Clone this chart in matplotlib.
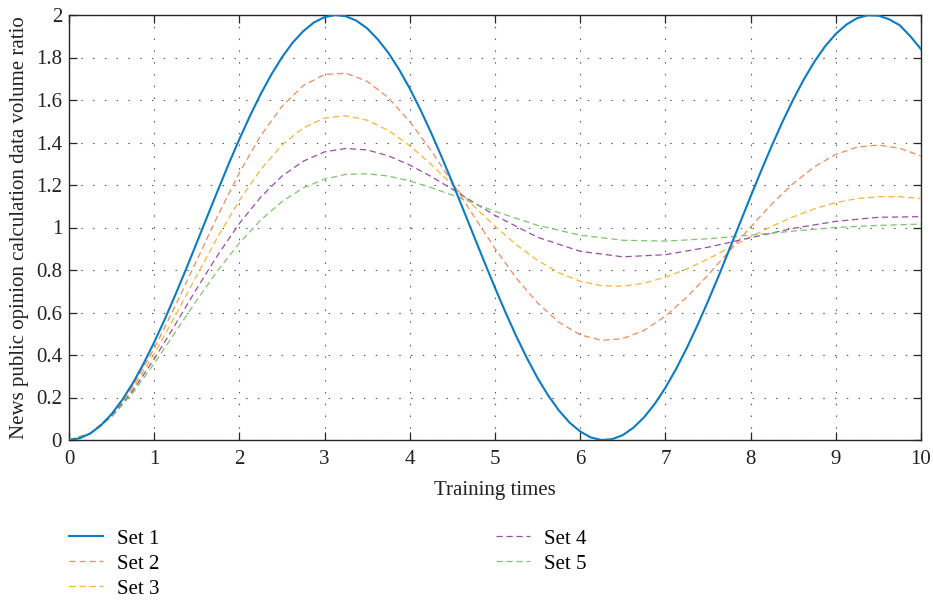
import matplotlib
matplotlib.use("Agg")
import matplotlib.pyplot as plt
from matplotlib.ticker import FuncFormatter

# ---------------- data ----------------
t_q = [0, 0.25, 0.5, 0.75, 1, 1.25, 1.5, 1.75, 2, 2.25, 2.5, 2.75, 3, 3.25, 3.5, 3.75,
       4, 4.25, 4.5, 4.75, 5, 5.25, 5.5, 5.75, 6, 6.25, 6.5, 6.75, 7, 7.25, 7.5, 7.75,
       8, 8.25, 8.5, 8.75, 9, 9.25, 9.5, 9.75, 10]

set1_t = [0, 0.125, 0.25, 0.375, 0.5, 0.625, 0.75, 0.875, 1, 1.125, 1.25, 1.375, 1.5,
          1.625, 1.75, 1.875, 2, 2.125, 2.25, 2.375, 2.5, 2.625, 2.75, 2.875, 3, 3.125,
          3.25, 3.375, 3.5, 3.625, 3.75, 3.875, 4, 4.125, 4.25, 4.375, 4.5, 4.625, 4.75,
          4.875, 5, 5.125, 5.25, 5.375, 5.5, 5.625, 5.75, 5.875, 6, 6.125, 6.25, 6.375,
          6.5, 6.625, 6.75, 6.875, 7, 7.125, 7.25, 7.375, 7.5, 7.625, 7.75, 7.875, 8,
          8.125, 8.25, 8.375, 8.5, 8.625, 8.75, 8.875, 9, 9.125, 9.25, 9.375, 9.5, 9.625,
          9.75, 9.875, 10]
set1_y = [0, 0.008, 0.031, 0.069, 0.122, 0.189, 0.268, 0.359, 0.460, 0.569, 0.685, 0.805,
          0.929, 1.054, 1.178, 1.300, 1.416, 1.526, 1.628, 1.720, 1.801, 1.870, 1.924, 1.965,
          1.990, 2.000, 1.994, 1.973, 1.937, 1.885, 1.821, 1.743, 1.654, 1.554, 1.446, 1.331,
          1.211, 1.087, 0.962, 0.838, 0.716, 0.599, 0.488, 0.385, 0.291, 0.209, 0.139, 0.082,
          0.040, 0.012, 0.000, 0.004, 0.023, 0.058, 0.107, 0.170, 0.246, 0.334, 0.432, 0.539,
          0.653, 0.772, 0.896, 1.021, 1.146, 1.268, 1.386, 1.498, 1.602, 1.697, 1.781, 1.853,
          1.911, 1.955, 1.985, 1.999, 1.997, 1.980, 1.952, 1.900, 1.839]

set2_y = [0, 0.031, 0.119, 0.256, 0.431, 0.633, 0.846, 1.059, 1.258, 1.432, 1.570, 1.668,
          1.720, 1.726, 1.688, 1.610, 1.498, 1.362, 1.211, 1.054, 0.901, 0.762, 0.645, 0.554,
          0.495, 0.469, 0.477, 0.516, 0.583, 0.672, 0.776, 0.889, 1.003, 1.111, 1.207, 1.286,
          1.344, 1.378, 1.388, 1.373, 1.337]

set3_y = [0, 0.030, 0.115, 0.244, 0.405, 0.586, 0.775, 0.959, 1.128, 1.273, 1.388, 1.469,
          1.515, 1.526, 1.505, 1.456, 1.385, 1.297, 1.201, 1.101, 1.006, 0.919, 0.845, 0.787,
          0.747, 0.726, 0.724, 0.738, 0.766, 0.805, 0.852, 0.904, 0.956, 1.006, 1.050, 1.088,
          1.117, 1.136, 1.145, 1.145, 1.136]

set4_t = [0, 0.25, 0.5, 0.75, 1, 1.25, 1.5, 1.75, 2, 2.25, 2.5, 2.75, 3, 3.25, 3.5, 3.75,
          4, 4.25, 4.5, 4.75, 5, 5.5, 6, 6.5, 7, 7.5, 8, 8.5, 9, 9.5, 10]
set4_y = [0, 0.030, 0.111, 0.233, 0.381, 0.545, 0.713, 0.873, 1.019, 1.143, 1.242, 1.312,
          1.356, 1.372, 1.365, 1.337, 1.294, 1.240, 1.180, 1.118, 1.057, 0.954, 0.888, 0.862,
          0.872, 0.907, 0.952, 0.996, 1.029, 1.048, 1.051]

set5_t = [0, 0.25, 0.5, 0.75, 1, 1.25, 1.5, 1.75, 2, 2.25, 2.5, 2.75, 3, 3.25, 3.5, 3.75,
          4, 4.25, 4.5, 5, 5.5, 6, 6.5, 7, 7.5, 8, 8.5, 9, 9.5, 10]
set5_y = [0, 0.029, 0.108, 0.222, 0.360, 0.509, 0.658, 0.800, 0.927, 1.035, 1.122, 1.186,
          1.228, 1.250, 1.253, 1.242, 1.219, 1.188, 1.152, 1.076, 1.010, 0.964, 0.940, 0.936,
          0.947, 0.964, 0.983, 1.000, 1.010, 1.016]

series_labels = ["Set 1", "Set 2", "Set 3", "Set 4", "Set 5"]
x_ticks = [0, 1, 2, 3, 4, 5, 6, 7, 8, 9, 10]
y_ticks = [0, 0.2, 0.4, 0.6, 0.8, 1.0, 1.2, 1.4, 1.6, 1.8, 2.0]
x_label = "Training times"
y_label = "News public opinion calculation data volume ratio"

# ---------------- style ----------------
plt.rcParams["font.family"] = ["Liberation Serif", "DejaVu Serif"]
FS = 15

fig = plt.figure(figsize=(9.33, 6.0), dpi=100)
W, H = 933, 600
ax = fig.add_axes([69 / W, 1 - 440 / H, (921 - 69) / W, (440 - 15) / H])

c1, c2, c3, c4, c5 = "#0A7CC4", "#F08A5D", "#F9B437", "#9B4DA8", "#7DC66B"
dash = (5, 3)

ax.plot(set1_t, set1_y, color=c1, lw=1.5, label=series_labels[0], zorder=5)
ax.plot(t_q, set2_y, color=c2, lw=0.9, dashes=dash, label=series_labels[1], zorder=4)
ax.plot(t_q, set3_y, color=c3, lw=0.9, dashes=dash, label=series_labels[2], zorder=4)
ax.plot(set4_t, set4_y, color=c4, lw=0.9, dashes=dash, label=series_labels[3], zorder=4)
ax.plot(set5_t, set5_y, color=c5, lw=0.9, dashes=dash, label=series_labels[4], zorder=4)

ax.set_xlim(0, 10)
ax.set_ylim(0, 2)
ax.set_xticks(x_ticks)
ax.set_yticks(y_ticks)
ax.yaxis.set_major_formatter(FuncFormatter(lambda v, p: "%g" % round(v, 2)))

ax.grid(True, color="#555555", lw=0.8, linestyle=(0, (1.3, 9.3)))
ax.set_axisbelow(True)

for s in ax.spines.values():
    s.set_color("#262626")
    s.set_linewidth(1.0)

ax.tick_params(direction="in", length=5.8, width=0.9, top=True, right=True,
               labelsize=FS, colors="#262626", labelcolor="#222222")
ax.tick_params(axis="x", pad=7)
ax.tick_params(axis="y", pad=5)

ax.set_xlabel(x_label, fontsize=FS, labelpad=9, color="#222222")
ax.set_ylabel(y_label, fontsize=FS, labelpad=5, color="#222222")

handles, labels = ax.get_legend_handles_labels()
fig.legend(handles, labels, ncol=2, loc="upper left",
           bbox_to_anchor=(69 / W, 1 - 529 / H), frameon=False, fontsize=FS,
           handlelength=1.63, handletextpad=0.67, columnspacing=16.15,
           labelspacing=0.26, borderpad=0, borderaxespad=0)

fig.savefig("out.png", dpi=100)
